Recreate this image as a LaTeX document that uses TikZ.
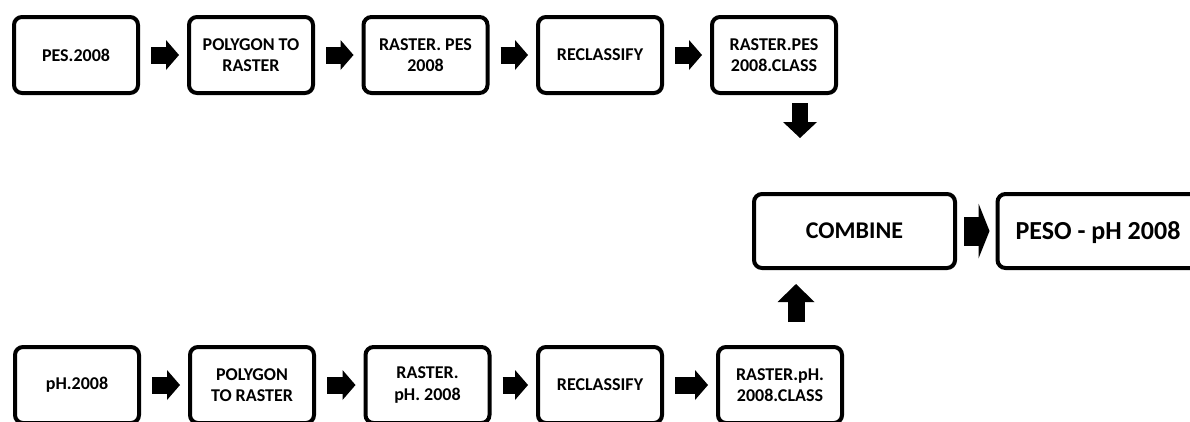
\documentclass[tikz,border=0pt]{standalone}
\usepackage{fontspec}
\setmainfont{Carlito}
\usetikzlibrary{arrows.meta}

\begin{document}
\begin{tikzpicture}[x=1pt,y=-1pt,
		box/.style={draw,line width=4pt,rounded corners=8pt,minimum width=124pt,minimum height=76pt,
			align=center,inner sep=2pt,font=\fontsize{18}{21.5}\selectfont\bfseries},
		bigbox/.style={box,minimum width=201pt,minimum height=74pt},
		hblock/.style={line width=17pt,-{Triangle[length=13pt,width=30pt,line width=0pt]},shorten <=11pt,shorten >=8pt},
		wblock/.style={line width=29pt,-{Triangle[length=11pt,width=55pt,line width=0pt]},shorten <=7pt,shorten >=6pt},
		vblock/.style={line width=16pt,-{Triangle[length=16pt,width=34pt,line width=0pt]},shorten <=8pt}]
		\useasboundingbox (0,0) rectangle (1190,421);
		\clip (0,0) rectangle (1190,421);
		% PES row
		\node[box] (pes) at (76,55) {PES.2008};
		\node[box] (polypes) at (251,55) {POLYGON TO\\RASTER};
		\node[box] (rpes) at (425.5,55) {RASTER. PES\\2008};
		\node[box] (reclpes) at (600,55) {RECLASSIFY};
		\node[box] (rpesc) at (774,55) {RASTER.PES\\2008.CLASS};
		% pH row
		\node[box] (ph) at (77,385) {pH.2008};
		\node[box] (polyph) at (252,385) {POLYGON\\TO RASTER};
		\node[box] (rph) at (427.5,385) {RASTER.\\pH. 2008};
		\node[box] (reclph) at (600,385) {RECLASSIFY};
		\node[box] (rphc) at (780,385) {RASTER.pH.\\2008.CLASS};
		% result
		\node[bigbox,font=\fontsize{24}{28}\selectfont\bfseries] (comb) at (854.5,231) {COMBINE};
		\node[bigbox,text depth=0pt,font=\fontsize{26}{30}\selectfont\bfseries] (peso) at (1098,231) {PESO - pH 2008};
		\coordinate (dtip) at (800,138);
		\coordinate (utip) at (796,284);
		\path[hblock] (pes) edge (polypes) (polypes) edge (rpes) (rpes) edge (reclpes) (reclpes) edge (rpesc);
		\path[hblock] (ph) edge (polyph) (polyph) edge (rph) (rph) edge (reclph) (reclph) edge (rphc);
		\path[wblock] (comb) edge (peso);
		\path[vblock] ([xshift=26pt]rpesc.south) edge (dtip);
		\path[vblock,-{Triangle[length=18pt,width=37pt,line width=0pt]},line width=17pt,shorten <=23pt] ([xshift=16pt]rphc.north) edge (utip);
	\end{tikzpicture}
\end{document}
